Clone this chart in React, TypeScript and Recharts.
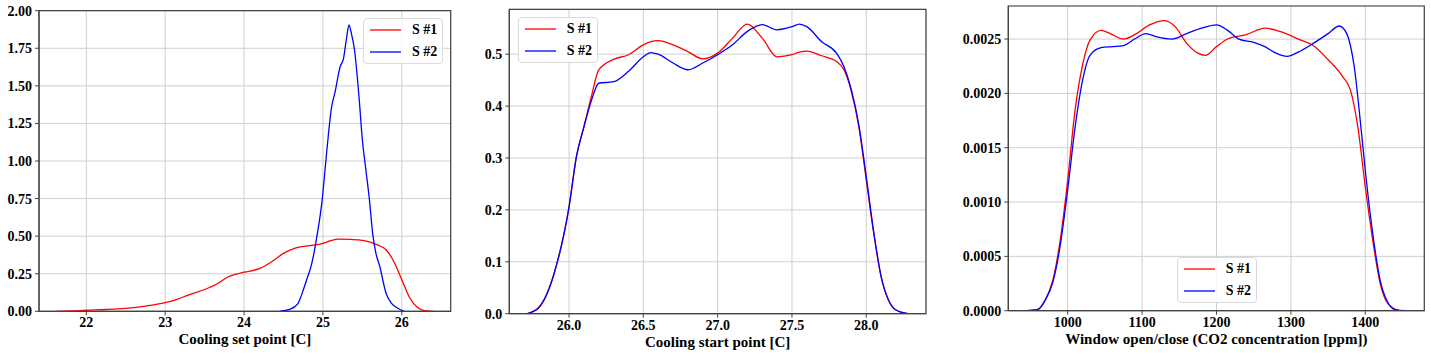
import React from "react";
import {
  LineChart,
  Line,
  XAxis,
  YAxis,
  CartesianGrid,
  Legend,
  ReferenceArea,
  Label,
} from "recharts";

// cooling set point KDE
const setPointX1 = [21.62, 21.8, 22.0, 22.25, 22.5, 22.75, 23.0, 23.15, 23.3, 23.5, 23.65, 23.8, 24.0, 24.2, 24.35, 24.5, 24.65, 24.8, 25.0, 25.1, 25.2, 25.35, 25.5, 25.6, 25.7, 25.8, 25.9, 26.0, 26.1, 26.2, 26.3, 26.4];
const setPointS1 = [0, 0.002, 0.007, 0.012, 0.02, 0.035, 0.058, 0.08, 0.11, 0.145, 0.18, 0.23, 0.26, 0.285, 0.33, 0.385, 0.42, 0.435, 0.452, 0.47, 0.48, 0.478, 0.472, 0.46, 0.44, 0.41, 0.33, 0.21, 0.09, 0.025, 0.003, 0];
const setPointX2 = [24.45, 24.58, 24.68, 24.75, 24.8, 24.85, 24.93, 24.99, 25.03, 25.07, 25.11, 25.15, 25.22, 25.26, 25.3, 25.33, 25.36, 25.4, 25.46, 25.5, 25.54, 25.59, 25.63, 25.67, 25.72, 25.8, 25.87, 25.95, 26.03];
const setPointS2 = [0, 0.013, 0.05, 0.14, 0.22, 0.3, 0.52, 0.74, 0.96, 1.18, 1.36, 1.45, 1.63, 1.68, 1.82, 1.905, 1.85, 1.74, 1.41, 1.14, 0.96, 0.74, 0.52, 0.39, 0.3, 0.12, 0.053, 0.02, 0];

// cooling start point KDE
const startX = [25.72, 25.8, 25.9, 26.0, 26.05, 26.1, 26.15, 26.2, 26.3, 26.4, 26.5, 26.55, 26.6, 26.7, 26.8, 26.9, 27.0, 27.1, 27.2, 27.3, 27.4, 27.5, 27.55, 27.6, 27.7, 27.8, 27.85, 27.9, 27.95, 28.0, 28.05, 28.1, 28.15, 28.2, 28.28];
const startS1 = [0, 0.013, 0.078, 0.206, 0.303, 0.36, 0.418, 0.47, 0.49, 0.499, 0.518, 0.524, 0.526, 0.518, 0.505, 0.491, 0.502, 0.531, 0.558, 0.531, 0.495, 0.499, 0.504, 0.506, 0.497, 0.486, 0.47, 0.428, 0.36, 0.258, 0.155, 0.071, 0.026, 0.007, 0];
const startS2 = [0, 0.013, 0.078, 0.206, 0.303, 0.36, 0.41, 0.444, 0.447, 0.467, 0.495, 0.503, 0.5, 0.483, 0.47, 0.483, 0.499, 0.518, 0.544, 0.557, 0.547, 0.553, 0.558, 0.553, 0.524, 0.502, 0.476, 0.431, 0.364, 0.264, 0.158, 0.072, 0.026, 0.007, 0];

// window open/close KDE
const windowX1 = [945, 960, 970, 980, 990, 1000, 1010, 1020, 1030, 1045, 1060, 1075, 1090, 1110, 1130, 1145, 1160, 1175, 1185, 1200, 1215, 1240, 1265, 1285, 1310, 1330, 1350, 1370, 1380, 1390, 1400, 1410, 1420, 1430, 1445];
const windowS1 = [0, 0.000012, 0.0001, 0.00028, 0.00065, 0.0012, 0.00185, 0.00226, 0.00249, 0.00258, 0.00254, 0.0025, 0.00254, 0.00263, 0.00267, 0.00261, 0.00246, 0.00237, 0.00235, 0.00243, 0.0025, 0.00254, 0.0026, 0.00257, 0.0025, 0.00244, 0.00231, 0.00215, 0.00203, 0.00169, 0.00114, 0.00065, 0.00025, 0.00007, 0];
const windowX2 = [945, 960, 970, 980, 990, 1000, 1010, 1020, 1030, 1045, 1060, 1075, 1090, 1105, 1120, 1140, 1160, 1180, 1200, 1215, 1230, 1250, 1265, 1280, 1295, 1310, 1330, 1350, 1365, 1375, 1385, 1395, 1400, 1410, 1420, 1430, 1440, 1455];
const windowS2 = [0, 0.000012, 0.0001, 0.00026, 0.0006, 0.00111, 0.00169, 0.00212, 0.00235, 0.00242, 0.00243, 0.00244, 0.0025, 0.00255, 0.00252, 0.0025, 0.00255, 0.0026, 0.00263, 0.00258, 0.0025, 0.00247, 0.00243, 0.00237, 0.00234, 0.00238, 0.00246, 0.00255, 0.00262, 0.00255, 0.00225, 0.00163, 0.00129, 0.00071, 0.00028, 0.00008, 0.00001, 0];

const toPoints = (xs: number[], ys: number[]) => xs.map((x, i) => ({ x, y: ys[i] }));

const FONT = "'Liberation Serif', 'Times New Roman', serif";
const H = 358;

const tickStyle = { fill: "#000", fontSize: 14, fontWeight: "bold", fontFamily: FONT };

const LegendBox = () => (
  <div
    style={{
      width: 80,
      height: 46,
      boxSizing: "border-box",
      border: "1px solid #dadada",
      borderRadius: 4,
      background: "rgba(255,255,255,0.85)",
      fontFamily: FONT,
      fontWeight: "bold",
      fontSize: 14,
      color: "#000",
    }}
  >
    {[
      { name: "S #1", color: "#ff0000" },
      { name: "S #2", color: "#0000ff" },
    ].map((s) => (
      <div key={s.name} style={{ height: 22, display: "flex", alignItems: "center" }}>
        <svg width={48} height={22}>
          <line x1={6} x2={37} y1={11} y2={11} stroke={s.color} strokeWidth={1.3} />
        </svg>
        <span>{s.name}</span>
      </div>
    ))}
  </div>
);

type PanelProps = {
  left: number;
  width: number;
  plot: { l: number; r: number; t: number; b: number };
  xDomain: [number, number];
  xTicks: number[];
  xFmt: (v: number) => string;
  yDomain: [number, number];
  yTicks: number[];
  yFmt: (v: number) => string;
  xLabel: string;
  labelOffset: number;
  s1: { x: number; y: number }[];
  s2: { x: number; y: number }[];
  legendPos: { left: number; top: number };
};

const Panel = (p: PanelProps) => (
  <div style={{ position: "absolute", left: p.left, top: 0 }}>
    <LineChart
      width={p.width}
      height={H}
      margin={{ top: p.plot.t, right: p.width - p.plot.r, left: 0, bottom: 0 }}
    >
      <CartesianGrid stroke="#cfcfcf" strokeWidth={1} />
      <XAxis
        dataKey="x"
        type="number"
        domain={p.xDomain}
        ticks={p.xTicks}
        tickFormatter={p.xFmt}
        allowDataOverflow
        height={H - p.plot.b}
        tick={tickStyle}
        tickSize={4}
        tickMargin={2}
        stroke="#444"
      >
        <Label
          value={p.xLabel}
          position="insideBottom"
          offset={p.labelOffset}
          style={{ fill: "#000", fontSize: 15, fontWeight: "bold", fontFamily: FONT }}
        />
      </XAxis>
      <YAxis
        type="number"
        domain={p.yDomain}
        ticks={p.yTicks}
        tickFormatter={p.yFmt}
        allowDataOverflow
        width={p.plot.l}
        tick={tickStyle}
        tickSize={4}
        tickMargin={3}
        stroke="#444"
      />
      <Line
        data={p.s1}
        dataKey="y"
        name="S #1"
        type="monotone"
        stroke="#ff0000"
        strokeWidth={1.3}
        dot={false}
        isAnimationActive={false}
      />
      <Line
        data={p.s2}
        dataKey="y"
        name="S #2"
        type="monotone"
        stroke="#0000ff"
        strokeWidth={1.3}
        dot={false}
        isAnimationActive={false}
      />
      <ReferenceArea
        x1={p.xDomain[0]}
        x2={p.xDomain[1]}
        y1={p.yDomain[0]}
        y2={p.yDomain[1]}
        fill="none"
        stroke="#444"
        strokeWidth={1.2}
      />
      <Legend
        layout="horizontal"
        verticalAlign="middle"
        align="center"
        wrapperStyle={{ left: p.legendPos.left, top: p.legendPos.top, width: 80, height: 46 }}
        content={() => <LegendBox />}
      />
    </LineChart>
  </div>
);

export default function App() {
  return (
    <div
      style={{
        position: "absolute",
        left: 0,
        top: 0,
        width: 1431,
        height: H,
        background: "#fff",
        overflow: "hidden",
      }}
    >
      <Panel
        left={0}
        width={470}
        plot={{ l: 39, r: 450.7, t: 10.7, b: 311.3 }}
        xDomain={[21.4, 26.62]}
        xTicks={[22, 23, 24, 25, 26]}
        xFmt={(v) => String(v)}
        yDomain={[0, 2]}
        yTicks={[0, 0.25, 0.5, 0.75, 1, 1.25, 1.5, 1.75, 2]}
        yFmt={(v) => v.toFixed(2)}
        xLabel="Cooling set point [C]"
        labelOffset={14}
        s1={toPoints(setPointX1, setPointS1)}
        s2={toPoints(setPointX2, setPointS2)}
        legendPos={{ left: 363, top: 18 }}
      />
      <Panel
        left={470}
        width={470}
        plot={{ l: 39.3, r: 456, t: 9.3, b: 313.7 }}
        xDomain={[25.598, 28.402]}
        xTicks={[26, 26.5, 27, 27.5, 28]}
        xFmt={(v) => v.toFixed(1)}
        yDomain={[0, 0.5865]}
        yTicks={[0, 0.1, 0.2, 0.3, 0.4, 0.5]}
        yFmt={(v) => v.toFixed(1)}
        xLabel="Cooling start point [C]"
        labelOffset={11}
        s1={toPoints(startX, startS1)}
        s2={toPoints(startX, startS2)}
        legendPos={{ left: 47.7, top: 17 }}
      />
      <Panel
        left={940}
        width={491}
        plot={{ l: 68.3, r: 484.3, t: 6, b: 310.7 }}
        xDomain={[920.2, 1479.3]}
        xTicks={[1000, 1100, 1200, 1300, 1400]}
        xFmt={(v) => String(v)}
        yDomain={[0, 0.002804]}
        yTicks={[0, 0.0005, 0.001, 0.0015, 0.002, 0.0025]}
        yFmt={(v) => v.toFixed(4)}
        xLabel="Window open/close (CO2 concentration [ppm])"
        labelOffset={14}
        s1={toPoints(windowX1, windowS1)}
        s2={toPoints(windowX2, windowS2)}
        legendPos={{ left: 236.7, top: 256.7 }}
      />
    </div>
  );
}
